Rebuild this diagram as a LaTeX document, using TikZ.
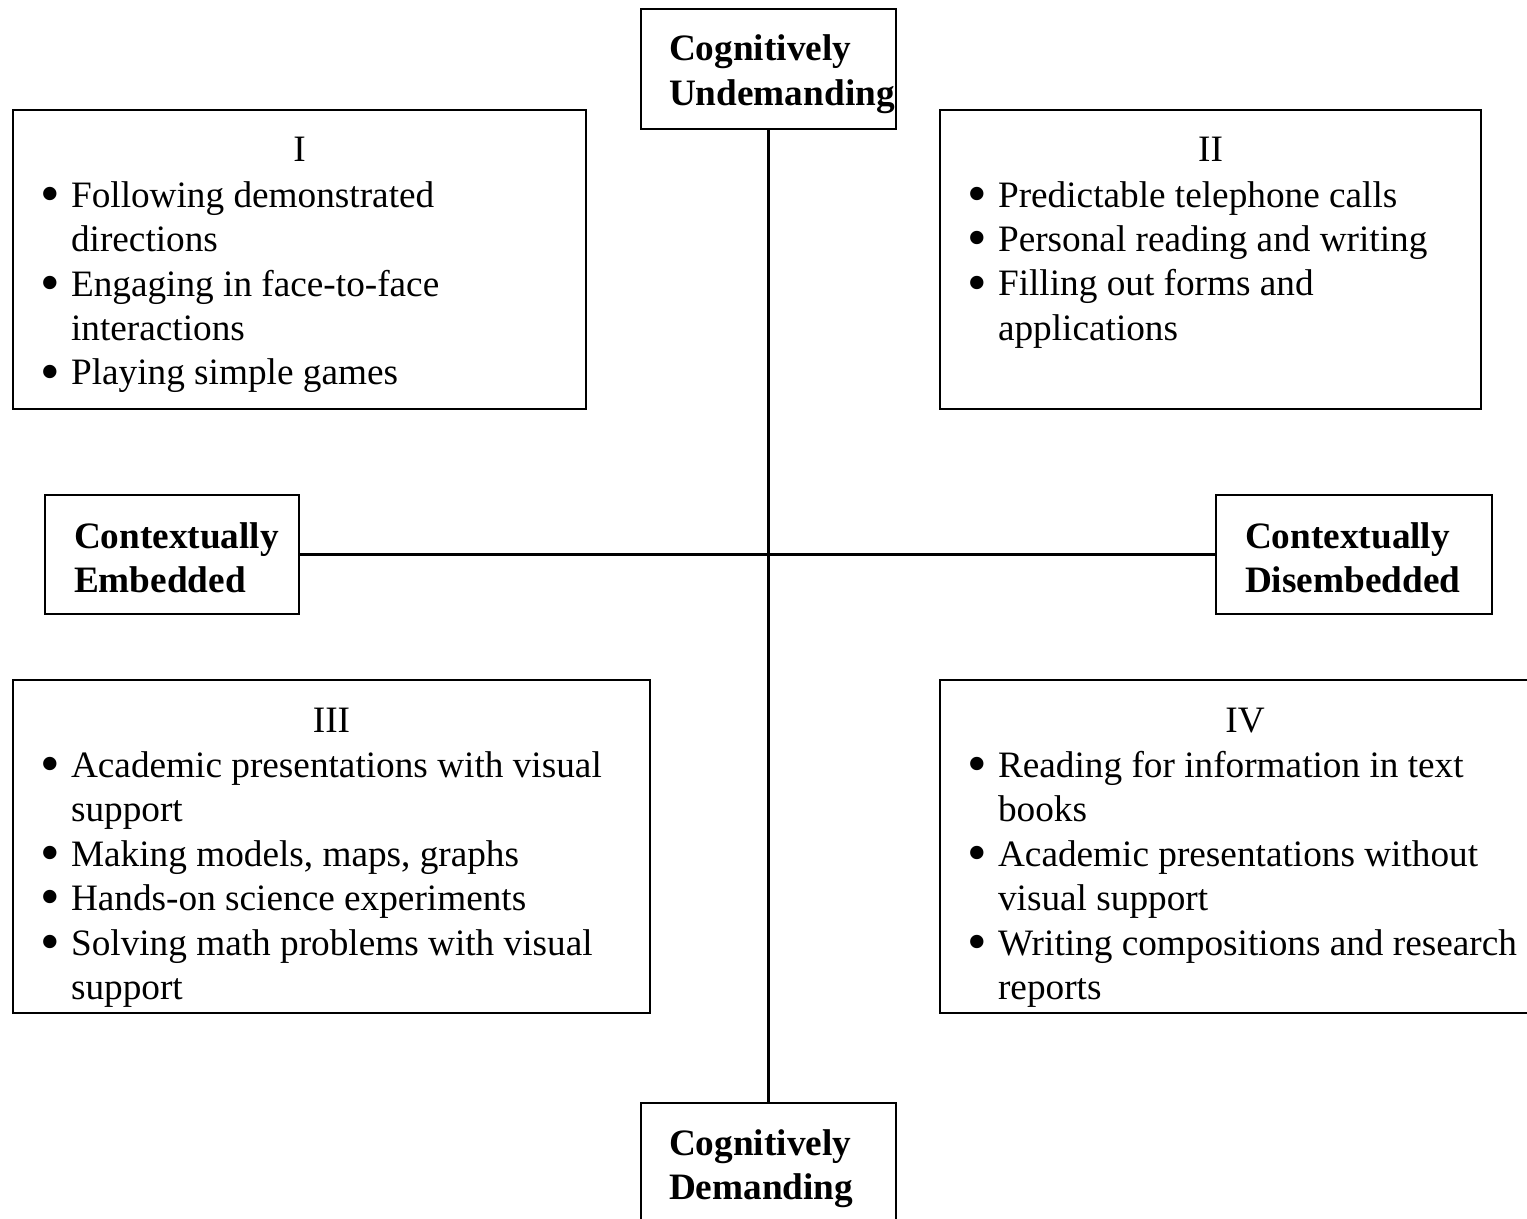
\documentclass[tikz,border=0pt]{standalone}
\usepackage{fontspec}
\usepackage{graphicx}
\setmainfont{Liberation Serif}
\newcommand{\qitem}{\makebox[0.31cm][l]{\raisebox{-1.5pt}{\scalebox{1.5}{\textbullet}}}}
\newcommand{\qmore}{\hspace*{0.31cm}}
\begin{document}
\begin{tikzpicture}[x=1cm, y=-1cm, line width=0.6pt,
  font=\fontsize{10.6pt}{12.66pt}\selectfont,
  frame/.style={draw, inner sep=0pt, outer sep=0pt, anchor=north west},
  axis/.style={frame, minimum height=1.20cm},
  quad/.style={frame, minimum height=2.99cm},
  head/.style={anchor=base},
  items/.style={anchor=base west, align=left, inner sep=0pt},
  pole/.style={items, font=\fontsize{10.6pt}{12.66pt}\selectfont\bfseries}]
\path[use as bounding box, clip] (0,0) rectangle (15.27,12.19);

% axis boxes
\node[axis, minimum width=2.55cm] (cu) at (6.41,0.09) {};
\node[axis, minimum width=2.55cm] (cd) at (6.41,11.03) {};
\node[axis, minimum width=2.54cm, minimum height=1.19cm] (ce) at (0.45,4.95) {};
\node[axis, minimum width=2.76cm, minimum height=1.19cm] (cde) at (12.16,4.95) {};

% quadrant boxes
\node[quad, minimum width=5.73cm] (q1) at (0.13,1.10) {};
\node[quad, minimum width=5.41cm] (q2) at (9.40,1.10) {};
\node[quad, minimum width=6.37cm, minimum height=3.33cm] (q3) at (0.13,6.80) {};
\node[quad, minimum width=6.10cm, minimum height=3.33cm] (q4) at (9.40,6.80) {};

\draw (cu) -- (cd);
\draw (ce) -- (cde);

% axis labels (base = last line)
\node[pole] (cut) at (6.68,1.055) {Cognitively\\Undemanding};
\node[pole] (cdt) at (6.68,11.995) {Cognitively\\Demanding};
\node[pole] (cet) at (0.73,5.925) {Contextually\\Embedded};
\node[pole] (cdet) at (12.44,5.925) {Contextually\\Disembedded};

% quadrant contents
\node[head] (h1) at ([yshift=-0.52cm]q1.north) {I};
\node[head] (h2) at ([yshift=-0.52cm]q2.north) {II};
\node[head] (h3) at ([yshift=-0.52cm]q3.north) {III};
\node[head] (h4) at ([yshift=-0.52cm]q4.north) {IV};

\node[items] (l1) at (0.39,3.85) {\qitem Following demonstrated\\
  \qmore directions\\
  \qitem Engaging in face-to-face\\
  \qmore interactions\\
  \qitem Playing simple games};
\node[items] (l2) at (9.66,3.405) {\qitem Predictable telephone calls\\
  \qitem Personal reading and writing\\
  \qitem Filling out forms and\\
  \qmore applications};
\node[items] (l3) at (0.39,9.995) {\qitem Academic presentations with visual\\
  \qmore support\\
  \qitem Making models, maps, graphs\\
  \qitem Hands-on science experiments\\
  \qitem Solving math problems with visual\\
  \qmore support};
\node[items] (l4) at (9.66,9.995) {\qitem Reading for information in text\\
  \qmore books\\
  \qitem Academic presentations without\\
  \qmore visual support\\
  \qitem Writing compositions and research\\
  \qmore reports};
\end{tikzpicture}
\end{document}
